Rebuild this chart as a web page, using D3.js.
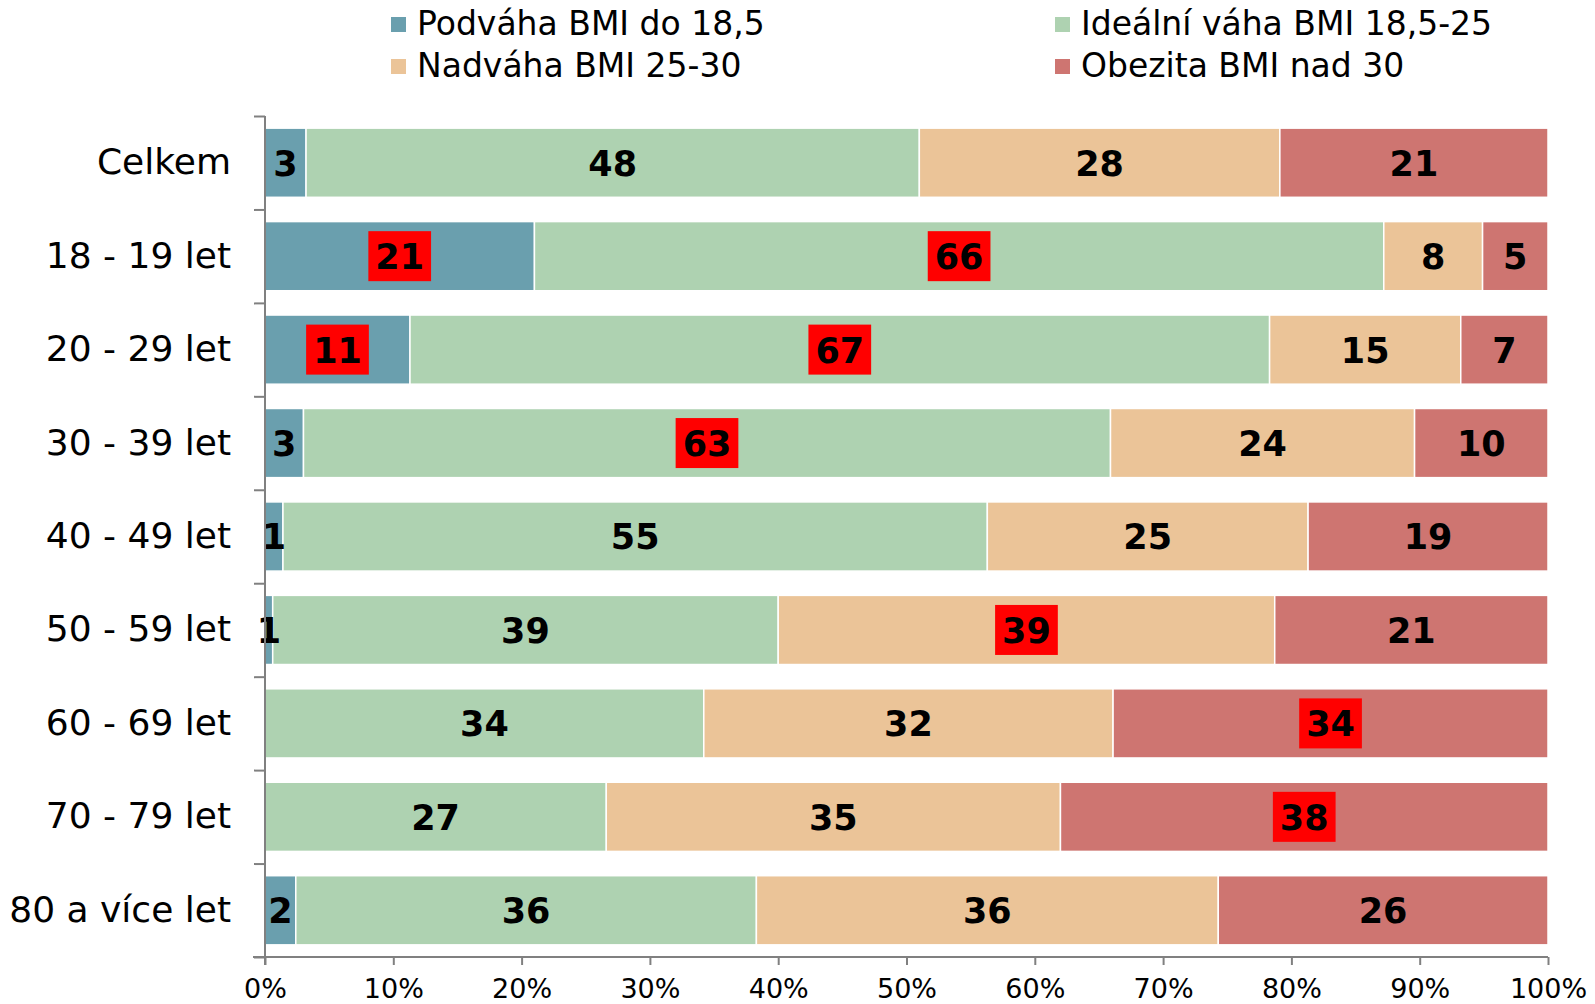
<!DOCTYPE html>
<html><head><meta charset="utf-8">
<script src="https://cdn.jsdelivr.net/npm/d3@7"></script>
<style>body{margin:0;background:#fff}svg{display:block;font-family:"DejaVu Sans",Verdana,sans-serif}</style>
</head><body><svg id="c" width="1595" height="1004"></svg>
<script>
const categories = ["Celkem","18 - 19 let","20 - 29 let","30 - 39 let","40 - 49 let","50 - 59 let","60 - 69 let","70 - 79 let","80 a více let"];
const seriesNames = ["Podváha BMI do 18,5","Ideální váha BMI 18,5-25","Nadváha BMI 25-30","Obezita BMI nad 30"];
const podvaha  = [3.2, 21.0, 11.3, 3.0, 1.4, 0.6, 0, 0, 2.4];
const idealni  = [47.8, 66.2, 67.0, 62.9, 54.9, 39.4, 34.2, 26.6, 35.9];
const nadvaha  = [28.1, 7.7, 14.9, 23.7, 25.0, 38.7, 31.9, 35.4, 36.0];
const obezita  = [20.9, 5.1, 6.8, 10.4, 18.7, 21.3, 33.9, 38.0, 25.7];
// highlighted labels (red box): [series index][category index]
const highlighted = [
  [0,1,1,0,0,0,0,0,0],
  [0,1,1,1,0,0,0,0,0],
  [0,0,0,0,0,1,0,0,0],
  [0,0,0,0,0,0,1,1,0]
];
const xTicks = [0,0.1,0.2,0.3,0.4,0.5,0.6,0.7,0.8,0.9,1.0];
const colors = ["#6A9FAE","#AED2B1","#EBC498","#CE7571"];

const series = [podvaha, idealni, nadvaha, obezita];
const rows = categories.map((c,i)=>{const o={cat:c}; series.forEach((s,k)=>o["s"+k]=s[i]/100); return o;});
const keys = ["s0","s1","s2","s3"];
const stacked = d3.stack().keys(keys)(rows);

const svg = d3.select("#c");
const x0 = 265, x1 = 1548, yTop = 116, yBot = 957;
const x = d3.scaleLinear().domain([0,1]).range([x0,x1]);
const y = d3.scaleBand().domain(categories).range([yTop,yBot]).paddingInner(0.26).paddingOuter(0.13);

// bars
const g = svg.append("g");
stacked.forEach((layer,k)=>{
  g.selectAll(null).data(layer).enter().append("rect")
    .attr("x",d=>x(d[0])).attr("y",d=>y(d.data.cat))
    .attr("width",d=>Math.max(0,x(d[1])-x(d[0]))).attr("height",y.bandwidth())
    .attr("fill",colors[k]).attr("stroke","#fff").attr("stroke-width",1.5);
});

// labels
stacked.forEach((layer,k)=>{
  layer.forEach((d,i)=>{
    const v = series[k][i];
    if (v <= 0) return;
    const cx = x((d[0]+d[1])/2), cy = y(d.data.cat)+y.bandwidth()/2;
    const txt = String(Math.round(v));
    const t = svg.append("text").attr("x",cx).attr("y",cy).attr("dy","0.37em")
      .attr("text-anchor","middle").attr("font-size",35).attr("font-weight","bold").attr("fill","#000").text(txt);
    if (highlighted[k][i]) {
      const w = t.node().getComputedTextLength();
      svg.insert("rect", () => t.node()).attr("x",cx-w/2-7).attr("y",cy-25).attr("width",w+14).attr("height",50).attr("fill","#FF0000");
    }
  });
});

// y axis: boundary ticks
const yIdx = d3.scaleLinear().domain([0,categories.length]).range([yTop,yBot]);
const ya = svg.append("g").attr("transform",`translate(${x0},0)`)
  .call(d3.axisLeft(yIdx).tickValues(d3.range(0,categories.length+1)).tickSize(11).tickFormat(""));
ya.select(".domain").remove();
ya.selectAll("line").attr("stroke","#808080").attr("stroke-width",2);
// category labels
const yl = svg.append("g").attr("transform",`translate(${x0},0)`)
  .call(d3.axisLeft(y).tickSize(0).tickPadding(34));
yl.select(".domain").remove();
yl.selectAll("text").attr("font-size",36).attr("font-family","DejaVu Sans, Verdana, sans-serif").attr("fill","#000");

// x axis
const xa = svg.append("g").attr("transform",`translate(0,${yBot})`)
  .call(d3.axisBottom(x).tickValues(xTicks).tickFormat(d3.format(".0%")).tickSizeInner(8).tickSizeOuter(0).tickPadding(14));
xa.select(".domain").remove();
xa.selectAll("line").attr("stroke","#808080").attr("stroke-width",2);
xa.selectAll("text").attr("font-size",27).attr("font-family","DejaVu Sans, Verdana, sans-serif").attr("fill","#000");

// axis lines
svg.append("line").attr("x1",x0).attr("x2",x0).attr("y1",yTop).attr("y2",yBot+8).attr("stroke","#808080").attr("stroke-width",2);
svg.append("line").attr("x1",x0-12).attr("x2",x1).attr("y1",yBot).attr("y2",yBot).attr("stroke","#808080").attr("stroke-width",2);

// legend
const legPos = [[391,17],[1055,17],[391,59],[1055,59]];
seriesNames.forEach((n,k)=>{
  const [lx,ly] = legPos[k];
  svg.append("rect").attr("x",lx).attr("y",ly).attr("width",15).attr("height",15).attr("fill",colors[k]);
  svg.append("text").attr("x",lx+26).attr("y",ly+18).attr("font-size",33).attr("fill","#000").text(n);
});
</script></body></html>
